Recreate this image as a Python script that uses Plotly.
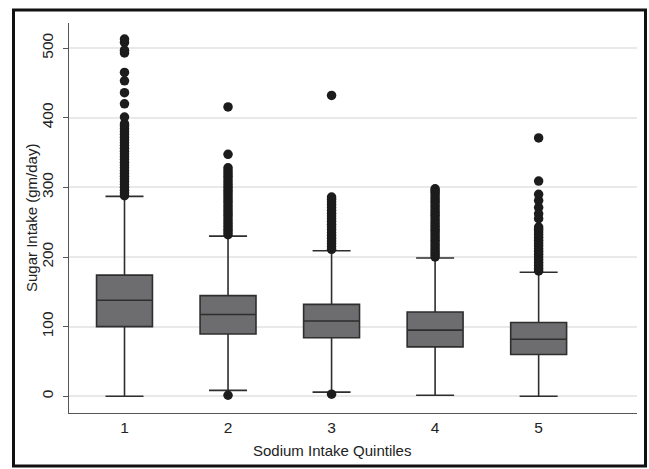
import plotly.graph_objects as go

# ---- data ----
quintiles = [1, 2, 3, 4, 5]
q1 = [100, 89.5, 84, 71, 60]
median = [138, 117.5, 108, 95, 82]
q3 = [174, 144.5, 132, 121, 106]
lower_whisker = [0, 8.5, 6, 1.5, 0]
upper_whisker = [287, 230, 209, 198.5, 178]

outliers_q1 = [288, 292, 296, 300, 304, 308, 312, 316, 320, 324, 328, 332, 336, 340,
               344, 348, 352, 356, 360, 364, 368, 372, 376, 380, 384, 388, 391,
               401, 420, 436, 453, 465, 493, 497, 508, 513]
outliers_q2 = [1.5, 232, 236, 240, 244, 248, 252, 256, 260, 264, 268, 272, 276, 280,
               284, 288, 292, 296, 300, 304, 308, 312, 316, 320, 324, 328, 347.5, 415.5]
outliers_q3 = [3, 211, 215, 219, 223, 227, 231, 235, 239, 243, 247, 251, 255, 259,
               263, 267, 271, 275, 279, 283, 286, 432]
outliers_q4 = [200, 204, 208, 212, 216, 220, 224, 228, 232, 236, 240, 244, 248, 252,
               256, 260, 264, 268, 272, 276, 280, 284, 288, 292, 295, 298]
outliers_q5 = [180, 184, 188, 192, 196, 200, 204, 208, 212, 216, 220, 224, 228, 232,
               236, 240, 243, 255, 262, 271, 281, 290, 309, 371]
outliers = [outliers_q1, outliers_q2, outliers_q3, outliers_q4, outliers_q5]

y_ticks = [0, 100, 200, 300, 400, 500]
x_title = "Sodium Intake Quintiles"
y_title = "Sugar Intake (gm/day)"

# ---- figure ----
W, H = 649, 469
L, R, T, B = 69, 12, 23, 56
FONT = "Liberation Sans, Arial, Helvetica, sans-serif"

fig = go.Figure()

fig.add_trace(go.Box(
    x=quintiles, q1=q1, median=median, q3=q3,
    lowerfence=lower_whisker, upperfence=upper_whisker,
    boxpoints=False, width=0.54, whiskerwidth=0.68,
    fillcolor="#6d6d6f", line=dict(color="#2e2e2e", width=1.6),
    hoverinfo="skip", showlegend=False,
))

for xq, pts in zip(quintiles, outliers):
    fig.add_trace(go.Scatter(
        x=[xq] * len(pts), y=pts, mode="markers",
        marker=dict(size=9.5, color="#1c1c1c"),
        showlegend=False, hoverinfo="skip",
    ))

# pixel -> paper helpers
pw, ph = W - L - R, H - T - B
def px2paper_x(px):
    return (px - L) / pw
def py2paper_y(py):
    return (H - B - py) / ph

# outer frame
fig.add_shape(type="rect", xref="paper", yref="paper",
              x0=px2paper_x(13.5), x1=px2paper_x(645.5),
              y0=py2paper_y(466), y1=py2paper_y(10),
              line=dict(color="#111111", width=3), fillcolor="rgba(0,0,0,0)",
              layer="above")

# axis titles as annotations (x title centred under the middle category)
fig.add_annotation(text=x_title, xref="x", yref="paper",
                   x=quintiles[len(quintiles) // 2], y=py2paper_y(450),
                   xanchor="center", yanchor="middle", showarrow=False,
                   font=dict(size=15, color="#222222"))
fig.add_annotation(text=y_title, xref="paper", yref="paper",
                   x=px2paper_x(31), y=0.5, textangle=-90,
                   xanchor="center", yanchor="middle", showarrow=False,
                   font=dict(size=15, color="#222222"))

fig.update_layout(
    width=W, height=H,
    margin=dict(l=L, r=R, t=T, b=B, pad=0),
    paper_bgcolor="white", plot_bgcolor="white",
    font=dict(family=FONT, size=15, color="#222222"),
    xaxis=dict(
        range=[0.464, 5.95], tickmode="array", tickvals=quintiles,
        ticktext=[str(q) for q in quintiles],
        showgrid=False, zeroline=False, showline=True, linecolor="#555555",
        linewidth=1.3, ticks="", ticklen=0,
        tickfont=dict(size=15.5),
    ),
    yaxis=dict(
        range=[-24, 536], tickmode="array", tickvals=y_ticks,
        ticktext=[str(v) for v in y_ticks], tickangle=-90,
        showgrid=True, gridcolor="#e9e9e9", gridwidth=1.5,
        zeroline=False, showline=True, linecolor="#555555", linewidth=1.3,
        ticks="outside", ticklen=5, tickcolor="#555555", tickwidth=1.2,
        ticklabelstandoff=4,
        tickfont=dict(size=15.5),
    ),
)

fig.write_html("out.html",
               config={"displayModeBar": False},
               post_script="document.body.style.margin='0';document.body.style.overflow='hidden';")
